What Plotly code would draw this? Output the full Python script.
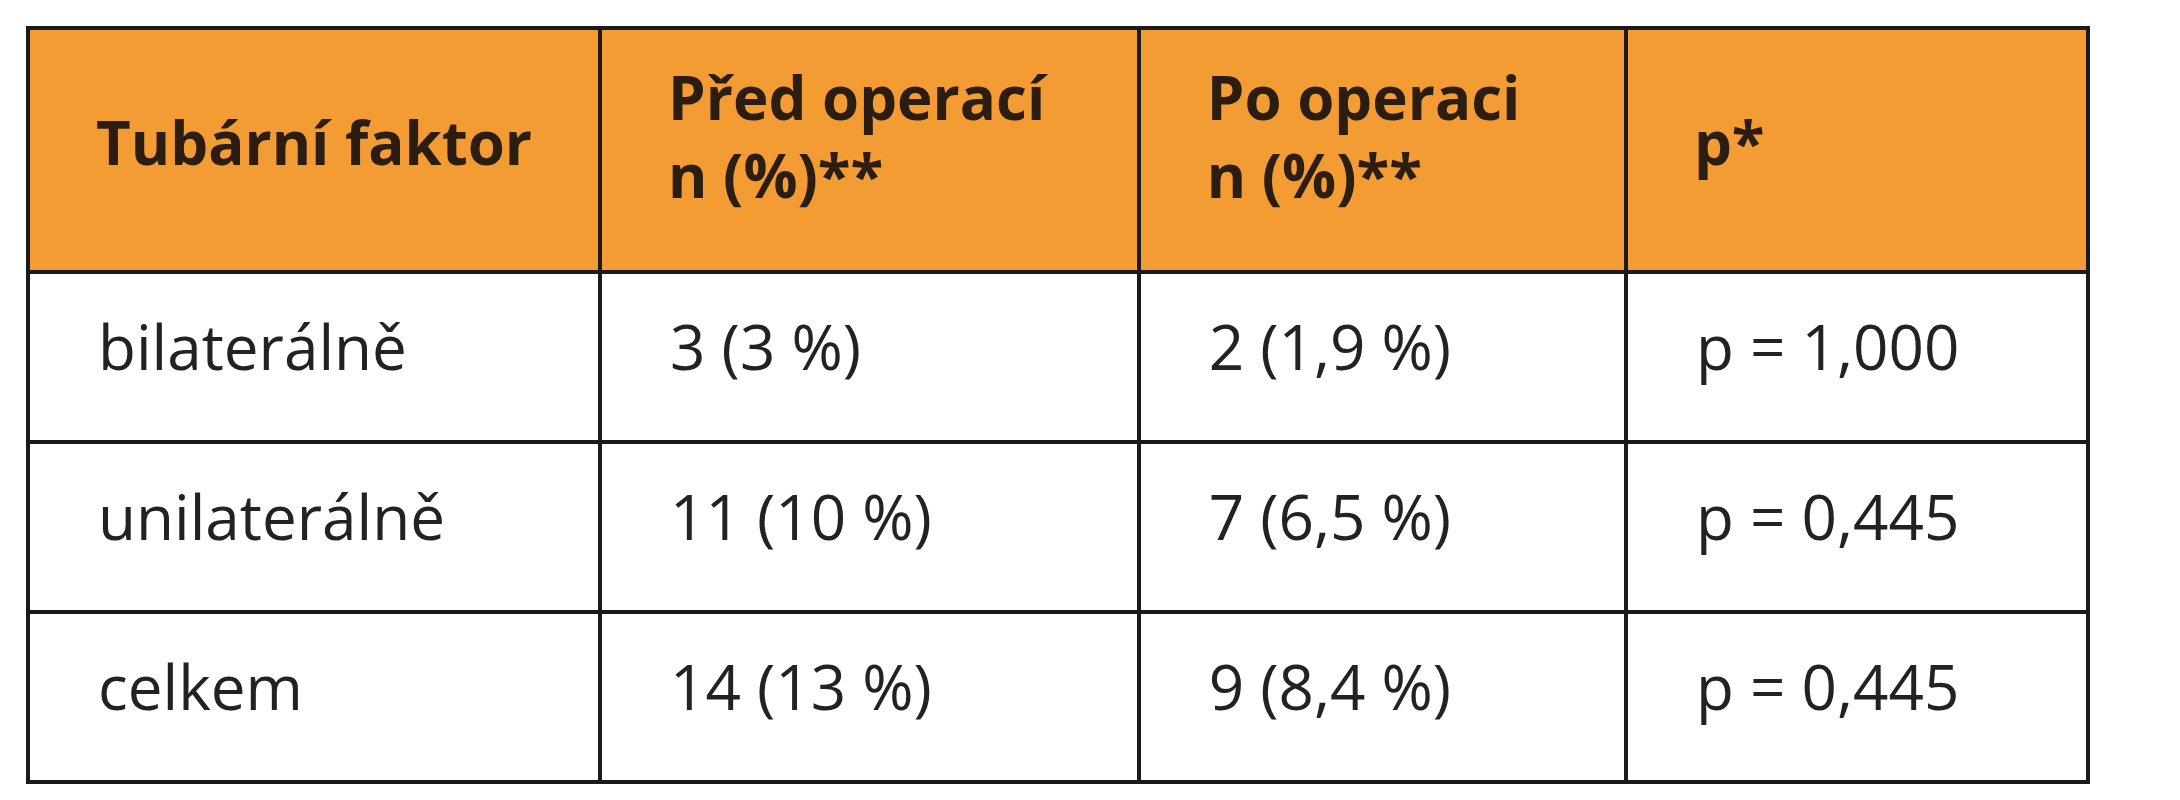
import plotly.graph_objects as go

headers = ["Tubární faktor", "Před operací<br>n (%)**", "Po operaci<br>n (%)**", "p*"]
faktor = ["bilaterálně", "unilaterálně", "celkem"]
pred = ["3 (3 %)", "11 (10 %)", "14 (13 %)"]
po = ["2 (1,9 %)", "7 (6,5 %)", "9 (8,4 %)"]
p_val = ["p = 1,000", "p = 0,445", "p = 0,445"]

pad = "\u2002\u2002"
top_h = "<span style='font-size:6px'> </span><br>"
top_h1 = "<span style='font-size:48px'> </span><br>"
top_c = "<span style='font-size:8px'> </span><br>"

hdr = [(top_h1 if "<br>" not in h else top_h) + pad + ("<br>" + pad).join(h.split("<br>")) for h in headers]
cols = [[top_c + pad + v for v in col] for col in (faktor, pred, po, p_val)]

fig = go.Figure(go.Table(
    domain=dict(x=[20 / 2180, 2080 / 2180], y=[0, 1]),
    columnwidth=[411, 387, 350, 332],
    header=dict(values=["<b>" + h + "</b>" for h in hdr],
                fill_color="#F39C34", line=dict(color="#1a1a1a", width=4),
                align="left", height=244,
                font=dict(family="Liberation Sans Narrow, Open Sans", size=60, color="#2b1d10")),
    cells=dict(values=cols, fill_color="white",
               line=dict(color="#1a1a1a", width=4),
               align="left", height=170,
               font=dict(family="Liberation Sans Narrow, Open Sans", size=62, color="#222222")),
))
fig.update_layout(width=2180, height=800, margin=dict(l=0, r=0, t=20, b=0),
                  paper_bgcolor="white")
fig.write_html("out.html")
